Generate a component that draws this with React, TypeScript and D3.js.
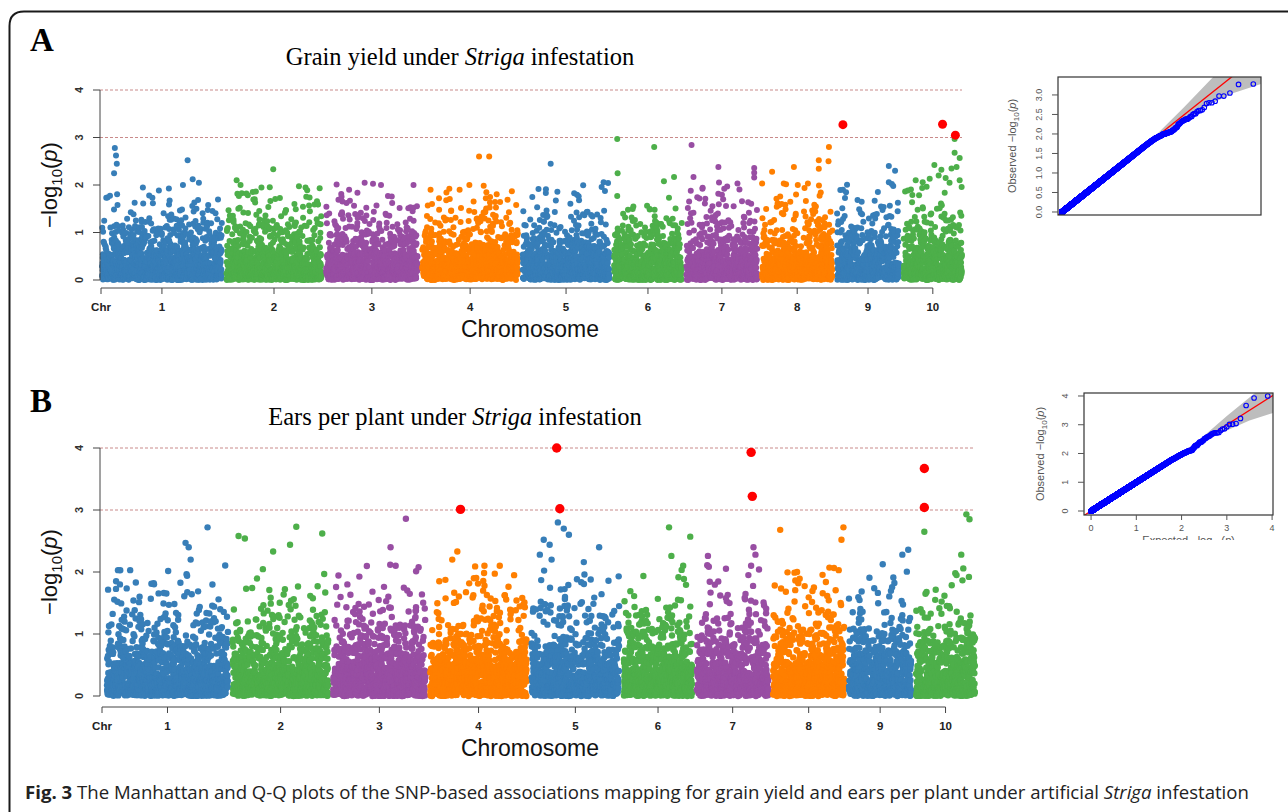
import React from "react";
import * as d3 from "d3";

// maize chromosomes, lengths in Mb
const chromosomes = ["1", "2", "3", "4", "5", "6", "7", "8", "9", "10"];
const chromLengthsMb = [308, 244, 235, 246, 223, 174, 182, 181, 159, 150];
const chromColors = ["#377EB8", "#4DAF4A", "#984EA3", "#FF7F00"];
const gapMb = 12;
const snpCount = 8000;
const threshold = 3;

// strongest SNPs: [chromosome, position Mb, -log10 p]
const grainYieldHits: [number, number, number][] = [
  [1, 33, 2.78], [1, 36, 2.62], [1, 38, 2.45], [1, 31, 2.25], [1, 105, 1.95],
  [1, 220, 2.52], [1, 233, 2.12], [1, 249, 2.05], [1, 208, 2.0],
  [2, 26, 2.1], [2, 36, 2.0], [2, 120, 2.33], [2, 203, 1.95],
  [3, 141, 2.0], [3, 59, 1.9],
  [4, 146, 2.6], [4, 172, 2.6], [4, 121, 2.0], [4, 96, 1.9],
  [5, 72, 2.45], [5, 203, 1.96], [5, 208, 2.06],
  [6, 8, 2.97], [6, 9, 2.25], [6, 8, 1.77], [6, 103, 2.8], [6, 128, 2.08], [6, 154, 2.17], [6, 141, 1.73],
  [7, 13, 2.84], [7, 18, 2.17], [7, 82, 2.38], [7, 174, 2.36], [7, 174, 2.26], [7, 174, 2.16],
  [7, 131, 2.03], [7, 97, 1.92], [7, 41, 1.92],
  [8, 26, 2.28], [8, 82, 2.38], [8, 56, 2.03], [8, 92, 2.0], [8, 118, 2.03], [8, 172, 2.8],
  [8, 171, 2.5], [8, 146, 2.52], [8, 146, 2.34], [8, 151, 1.84],
  [9, 15, 3.27], [9, 15, 1.9], [9, 23, 1.85], [9, 133, 2.4], [9, 149, 2.3], [9, 133, 2.06],
  [10, 100, 3.28], [10, 133, 3.05], [10, 131, 2.97], [10, 131, 2.68], [10, 144, 2.57],
  [10, 136, 2.38], [10, 123, 2.35], [10, 79, 2.42], [10, 97, 2.32], [10, 67, 2.13],
  [10, 31, 2.1], [10, 49, 2.06], [10, 90, 2.2], [10, 108, 2.15], [10, 118, 2.05], [10, 144, 2.1],
];

const earsPerPlantHits: [number, number, number][] = [
  [1, 28, 2.03], [1, 59, 2.03], [1, 33, 1.8], [1, 200, 2.47], [1, 208, 2.4], [1, 256, 2.72], [1, 213, 2.2],
  [2, 15, 2.58], [2, 31, 2.54], [2, 103, 2.33], [2, 162, 2.73], [2, 146, 2.44], [2, 228, 2.62],
  [3, 185, 2.86], [3, 146, 2.4], [3, 159, 2.1], [3, 36, 1.8],
  [4, 77, 3.01], [4, 69, 2.33], [4, 56, 2.2], [4, 138, 2.1], [4, 177, 2.1], [4, 23, 1.85],
  [5, 64, 4.0], [5, 72, 3.02], [5, 31, 2.52], [5, 46, 2.44], [5, 21, 2.28], [5, 51, 2.2],
  [5, 67, 2.8], [5, 82, 2.7], [5, 95, 2.6], [5, 172, 2.4], [5, 133, 2.16],
  [6, 115, 2.72], [6, 121, 2.26], [6, 169, 2.57], [6, 151, 2.1],
  [7, 138, 3.93], [7, 141, 3.22], [7, 28, 2.26], [7, 144, 2.4], [7, 149, 2.28], [7, 138, 2.1], [7, 131, 1.95],
  [8, 18, 2.68], [8, 64, 1.82], [8, 179, 2.72], [8, 174, 2.52], [8, 167, 2.03],
  [9, 151, 2.36], [9, 136, 2.28],
  [10, 21, 3.67], [10, 21, 3.04], [10, 21, 2.65], [10, 128, 2.93], [10, 136, 2.85], [10, 115, 2.28], [10, 103, 1.95],
];

// Q-Q confidence band: expected, lower, upper
const bandA = { expected: [1.9, 2.5, 3.0, 3.5, 4.1], lower: [1.88, 2.35, 2.75, 3.05, 3.3], upper: [1.95, 2.7, 3.35, 4.0, 4.7] };
const bandB = { expected: [2.3, 3.0, 3.5, 4.1], lower: [2.28, 2.8, 3.15, 3.45], upper: [2.35, 3.3, 3.95, 4.7] };

const yTicks = [0, 1, 2, 3, 4];
const qqTicksA = [0, 0.5, 1, 1.5, 2, 2.5, 3];
const qqTicksB = [0, 1, 2, 3, 4];

const SANS = "'Liberation Sans', Arial, sans-serif";
const SERIF = "'Liberation Serif', 'Times New Roman', serif";

type Snp = { chr: number; pos: number; val: number };

// integer mix used only to scatter the order of the null quantiles along the genome
function mix(i: number) {
  let h = Math.imul(i ^ 0x9e3779b9, 0x85ebca6b);
  h ^= h >>> 13;
  h = Math.imul(h, 0xc2b2ae35);
  h ^= h >>> 16;
  return (h >>> 0) / 4294967296;
}

// background SNPs: the null -log10(p) quantiles below the read-off hits, spread along each chromosome
function buildSnps(hits: [number, number, number][], seed: number): Snp[] {
  const nBulk = snpCount - hits.length;
  const total = d3.sum(chromLengthsMb);
  const slots: { chr: number; pos: number }[] = [];
  let made = 0;
  chromLengthsMb.forEach((len, ci) => {
    const nc = ci === 9 ? nBulk - made : Math.round((nBulk * len) / total);
    made += nc;
    for (let j = 0; j < nc; j++) slots.push({ chr: ci, pos: ((j + 0.5) / nc) * len });
  });
  const quantiles = d3.range(nBulk).map((k) => -Math.log10((hits.length + k + 1) / (snpCount + 1)));
  const order = d3.range(nBulk).sort((a, b) => mix(a * 7 + seed) - mix(b * 7 + seed));
  const out: Snp[] = slots.map((s, i) => ({ chr: s.chr, pos: s.pos, val: quantiles[order[i]] }));
  hits.forEach(([c, p, v]) => out.push({ chr: c - 1, pos: p, val: v }));
  return out;
}

const offsets = chromLengthsMb.map((_, i) => d3.sum(chromLengthsMb.slice(0, i)) + i * gapMb);
const genomeLen = d3.sum(chromLengthsMb) + 9 * gapMb;

function Manhattan({ snps, x0, x1, chrTickX, yBottom, yTop, axisY, r, title, label, top }: any) {
  const x = d3.scaleLinear().domain([0, genomeLen]).range([x0, x1]);
  const y = d3.scaleLinear().domain([0, 4]).range([yBottom, yTop]);
  const centers = chromLengthsMb.map((len, i) => x(offsets[i] + len / 2));
  const normal = snps.filter((d: Snp) => d.val < threshold);
  const sig = snps.filter((d: Snp) => d.val >= threshold);
  const midY = (yBottom + yTop) / 2;
  return (
    <g>
      <text x={30} y={top} fontFamily={SERIF} fontWeight="bold" fontSize={33}>{label}</text>
      {title}
      {[3, 4].map((v) => (
        <line key={v} x1={100} x2={x1} y1={y(v)} y2={y(v)} stroke="#c98a8a" strokeDasharray="3,2" strokeWidth={1} />
      ))}
      <g>
        {normal.map((d: Snp, i: number) => (
          <circle key={i} cx={x(offsets[d.chr] + d.pos)} cy={y(d.val)} r={r} fill={chromColors[d.chr % 4]} />
        ))}
        {sig.map((d: Snp, i: number) => (
          <circle key={"s" + i} cx={x(offsets[d.chr] + d.pos)} cy={y(d.val)} r={r + 1.5} fill="#FF0000" />
        ))}
      </g>
      <line x1={100} x2={100} y1={y(0)} y2={y(4)} stroke="#444" />
      {yTicks.map((t) => (
        <g key={t}>
          <line x1={93} x2={100} y1={y(t)} y2={y(t)} stroke="#444" />
          <text transform={`translate(83,${y(t)}) rotate(-90)`} textAnchor="middle" fontFamily={SANS} fontWeight="bold" fontSize={11} fill="#333">{t}</text>
        </g>
      ))}
      <line x1={chrTickX} x2={centers[9]} y1={axisY} y2={axisY} stroke="#444" />
      <line x1={chrTickX} x2={chrTickX} y1={axisY} y2={axisY + 6} stroke="#444" />
      <text x={chrTickX} y={axisY + 23} textAnchor="middle" fontFamily={SANS} fontWeight="bold" fontSize={11.5} fill="#222">Chr</text>
      {chromosomes.map((c, i) => (
        <g key={c}>
          <line x1={centers[i]} x2={centers[i]} y1={axisY} y2={axisY + 6} stroke="#444" />
          <text x={centers[i]} y={axisY + 23} textAnchor="middle" fontFamily={SANS} fontWeight="bold" fontSize={11.5} fill="#222">{c}</text>
        </g>
      ))}
      <text x={530} y={axisY + 49} textAnchor="middle" fontFamily={SANS} fontSize={23} fill="#111">Chromosome</text>
      <text transform={`translate(57,${midY}) rotate(-90)`} textAnchor="middle" fontFamily={SANS} fontSize={22} fill="#111">
        −log<tspan dy={5} fontSize={15}>10</tspan><tspan dy={-5}>(</tspan><tspan fontStyle="italic">p</tspan>)
      </text>
    </g>
  );
}

function QQ({ snps, band, box, xDomain, yDomain, ticks, tickFmt, labelX, tickLabelX, showX, id, r }: any) {
  const x = d3.scaleLinear().domain(xDomain).range([box.x0, box.x1]);
  const y = d3.scaleLinear().domain(yDomain).range([box.y1, box.y0]);
  const obs = snps.map((d: Snp) => d.val).sort((a: number, b: number) => b - a);
  const n = obs.length;
  const pts = obs.map((v: number, i: number) => ({ e: -Math.log10((i + 1) / (n + 1)), o: v }));
  const area = d3.area<number>()
    .x((_, i) => x(band.expected[i]))
    .y0((_, i) => y(band.lower[i]))
    .y1((_, i) => y(band.upper[i]));
  const midY = (box.y0 + box.y1) / 2;
  return (
    <g>
      <defs>
        <clipPath id={id}><rect x={box.x0} y={box.y0} width={box.x1 - box.x0} height={box.y1 - box.y0} /></clipPath>
        <clipPath id={id + "lab"}><rect x={box.x0 - 60} y={box.y1} width={300} height={25} /></clipPath>
      </defs>
      <g clipPath={`url(#${id})`}>
        <path d={area(band.expected) || ""} fill="#bdbdbd" />
        <line x1={x(-1)} y1={y(-1)} x2={x(6)} y2={y(6)} stroke="#FF0000" strokeWidth={1.3} />
        {pts.map((p: any, i: number) => (
          <circle key={i} cx={x(p.e)} cy={y(p.o)} r={r} fill="none" stroke="#0000FF" strokeWidth={1.1} />
        ))}
      </g>
      <rect x={box.x0} y={box.y0} width={box.x1 - box.x0} height={box.y1 - box.y0} fill="none" stroke="#333" strokeWidth={1.2} />
      {ticks.map((t: number) => (
        <g key={t}>
          <line x1={box.x0 - 6} x2={box.x0} y1={y(t)} y2={y(t)} stroke="#555" />
          <text transform={`translate(${tickLabelX},${y(t)}) rotate(-90)`} textAnchor="middle" fontFamily={SANS} fontSize={9} fill="#555">{tickFmt(t)}</text>
        </g>
      ))}
      {showX && ticks.map((t: number) => (
        <g key={"x" + t}>
          <line x1={x(t)} x2={x(t)} y1={box.y1} y2={box.y1 + 5} stroke="#555" />
          <text x={x(t)} y={box.y1 + 16} textAnchor="middle" fontFamily={SANS} fontSize={9} fill="#555">{t}</text>
        </g>
      ))}
      {showX && (
        <g clipPath={`url(#${id}lab)`}>
          <text x={(box.x0 + box.x1) / 2 + 10} y={box.y1 + 29} textAnchor="middle" fontFamily={SANS} fontSize={11} fill="#555">
            Expected  −log<tspan dy={3} fontSize={8}>10</tspan><tspan dy={-3}>(</tspan><tspan fontStyle="italic">p</tspan>)
          </text>
        </g>
      )}
      <text transform={`translate(${labelX},${midY}) rotate(-90)`} textAnchor="middle" fontFamily={SANS} fontSize={11} fill="#555">
        Observed  −log<tspan dy={3} fontSize={8}>10</tspan><tspan dy={-3}>(</tspan><tspan fontStyle="italic">p</tspan>)
      </text>
    </g>
  );
}

export default function App() {
  const snpsA = React.useMemo(() => buildSnps(grainYieldHits, 11), []);
  const snpsB = React.useMemo(() => buildSnps(earsPerPlantHits, 5003), []);
  return (
    <svg width={1288} height={812} viewBox="0 0 1288 812" style={{ position: "absolute", left: 0, top: 0, background: "#fff" }}>
      <rect width={1288} height={812} fill="#fff" />
      <path d="M 9.5 812 L 9.5 26 Q 9.5 11.5 24 11.5 L 1288 11.5" fill="none" stroke="#1a1a1a" strokeWidth={2} />
      <Manhattan
        snps={snpsA} x0={102} x1={962} chrTickX={101} yBottom={280} yTop={90} axisY={288} r={3} label="A" top={51}
        title={<text x={460} y={65} textAnchor="middle" fontFamily={SERIF} fontSize={24.5}>Grain yield under <tspan fontStyle="italic">Striga</tspan> infestation</text>}
      />
      <Manhattan
        snps={snpsB} x0={107} x1={975} chrTickX={102} yBottom={696} yTop={448} axisY={707} r={3.2} label="B" top={412}
        title={<text x={455} y={425} textAnchor="middle" fontFamily={SERIF} fontSize={24.5}>Ears per plant under <tspan fontStyle="italic">Striga</tspan> infestation</text>}
      />
      <QQ
        id="qqa" snps={snpsA} band={bandA} box={{ x0: 1058, x1: 1261, y0: 77, y1: 215 }}
        xDomain={[-0.08, 4.06]} yDomain={[-0.077, 3.46]} ticks={qqTicksA} tickFmt={(t: number) => t.toFixed(1)}
        labelX={1016} tickLabelX={1042} showX={false} r={2.3}
      />
      <QQ
        id="qqb" snps={snpsB} band={bandB} box={{ x0: 1084, x1: 1273, y0: 393, y1: 515 }}
        xDomain={[-0.156, 4.02]} yDomain={[-0.139, 4.104]} ticks={qqTicksB} tickFmt={(t: number) => String(t)}
        labelX={1044} tickLabelX={1068} showX={true} r={2.3}
      />
      <text x={25} y={799} fontFamily="'Open Sans', 'Noto Sans', sans-serif" fontSize={18.6} fill="#222">
        <tspan fontWeight="bold">Fig. 3</tspan> The Manhattan and Q-Q plots of the SNP-based associations mapping for grain yield and ears per plant under artificial <tspan fontStyle="italic">Striga</tspan> infestation
      </text>
    </svg>
  );
}
